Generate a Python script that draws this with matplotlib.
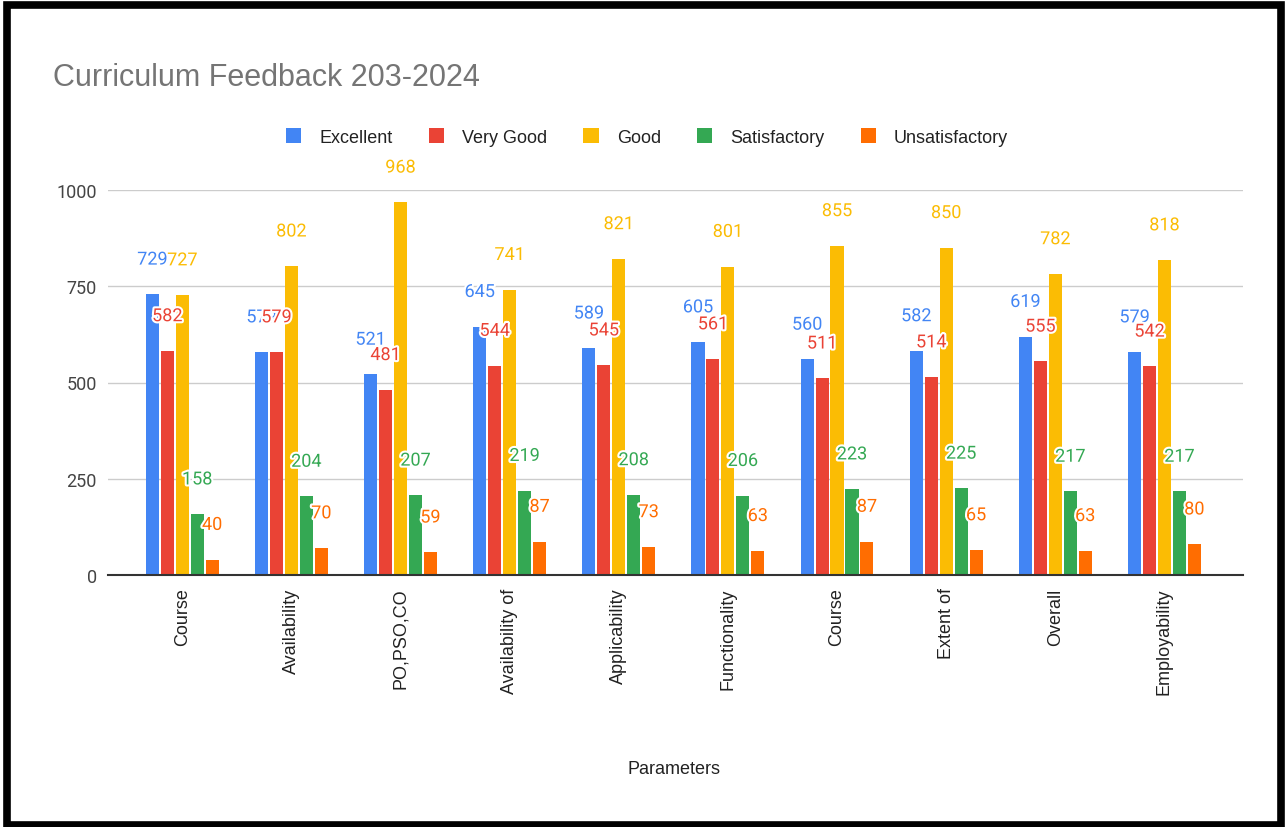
import numpy as np
import matplotlib
matplotlib.use("Agg")
import matplotlib.pyplot as plt
import matplotlib.patheffects as pe
from matplotlib.patches import Rectangle

plt.rcParams['font.family'] = ['Roboto', 'DejaVu Sans']
arial = ['Liberation Sans', 'DejaVu Sans']

categories = ["Course", "Availability", "PO,PSO,CO", "Availability of", "Applicability",
              "Functionality", "Course", "Extent of", "Overall", "Employability"]
series_names = ["Excellent", "Very Good", "Good", "Satisfactory", "Unsatisfactory"]
excellent = [729, 579, 521, 645, 589, 605, 560, 582, 619, 579]
very_good = [582, 579, 481, 544, 545, 561, 511, 514, 555, 542]
good = [727, 802, 968, 741, 821, 801, 855, 850, 782, 818]
satisfactory = [158, 204, 207, 219, 208, 206, 223, 225, 217, 217]
unsatisfactory = [40, 70, 59, 87, 73, 63, 87, 65, 63, 80]
yticks = [0, 250, 500, 750, 1000]

colors = ['#4285F4', '#EA4335', '#FBBC04', '#34A853', '#FF6D01']
all_series = [excellent, very_good, good, satisfactory, unsatisfactory]

W, H = 1286, 828
fig = plt.figure(figsize=(W / 100, H / 100), dpi=100)
ax = fig.add_axes([108 / W, 1 - 576 / H, (1243 - 108) / W, (576 - 191) / H])

x = np.arange(len(categories))
pitch = 0.137
width = 0.12
for i, (vals, col, name) in enumerate(zip(all_series, colors, series_names)):
    xs = x + (i - 2) * pitch
    ax.bar(xs, vals, width=width, color=col, label=name, zorder=3)
    for xi, v in zip(xs, vals):
        ax.annotate(str(v), (xi, v), xytext=(0, 25), textcoords='offset points',
                    ha='center', va='center', fontsize=13, color=col,
                    annotation_clip=False, zorder=5,
                    path_effects=[pe.withStroke(linewidth=3, foreground='white')])

ax.set_xlim(-0.68, 9.72)
ax.set_ylim(0, 1000)
ax.set_yticks(yticks)
ax.set_yticklabels([str(t) for t in yticks], fontsize=13, color='#444444')
ax.set_xticks(x)
ax.set_xticklabels(categories, rotation=90, fontsize=13, color='#222222', family=arial)
ax.tick_params(axis='both', length=0)
ax.tick_params(axis='y', pad=8)
ax.tick_params(axis='x', pad=9)
ax.grid(axis='y', color='#cccccc', linewidth=1, zorder=0)
for s in ['top', 'right', 'left']:
    ax.spines[s].set_visible(False)
ax.spines['bottom'].set_color('#333333')
ax.spines['bottom'].set_linewidth(1.5)
ax.spines['bottom'].set_zorder(4)

fig.text(53 / W, 1 - 78 / H, "Curriculum Feedback 203-2024", fontsize=22,
         color='#757575', ha='left', va='center', family=arial)
fig.text(674 / W, 1 - 770 / H, "Parameters", fontsize=13, color='#222222',
         ha='center', va='center', family=arial)

fig.legend(loc='center', bbox_to_anchor=(647 / W, 1 - 138 / H), ncol=5,
           frameon=False, prop={'family': arial, 'size': 13},
           handlelength=0.85, handleheight=0.85,
           handletextpad=1.0, columnspacing=2.0, labelcolor='#222222')

fig.patches.append(Rectangle((7 / W, 2 / H), 1274 / W, 820 / H, transform=fig.transFigure,
                             fill=False, edgecolor='black', linewidth=5.5))

fig.savefig("out.png", dpi=100)
